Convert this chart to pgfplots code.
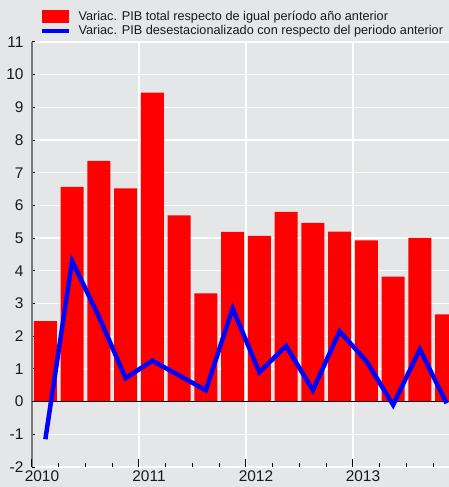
\documentclass[border=0pt]{standalone}
\usepackage{fontspec}
\setmainfont{Liberation Sans}
\usepackage{pgfplots}
\pgfplotsset{compat=1.18}
\definecolor{bg}{RGB}{229,230,232}
\definecolor{axgray}{RGB}{120,120,120}
\begin{document}
\begin{tikzpicture}[x=1bp,y=1bp]
\fill[bg] (-32,-20) rectangle (417,467);
\useasboundingbox (-32,-20) rectangle (417,467);
\begin{axis}[
  at={(0,0)}, anchor=south west,
  scale only axis, width=417bp, height=425bp,
  xmin=0, xmax=15.59, ymin=-2, ymax=11,
  axis y line*=left, axis x line*=bottom,
  separate axis lines,
  y axis line style={axgray, line width=1.7bp},
  x axis line style={draw=none},
  ytick={-2,-1,...,11},
  xtick={0,4,8,12}, xticklabels={2010,2011,2012,2013},
  xticklabel style={xshift=10bp},
  yticklabel style={xshift=-5bp},
  grid=major, major grid style={white, line width=1.3bp},
  tick align=inside, major tick length=3.5bp,
  ytick style={black, line width=1bp},
  xtick style={draw=none},
  tick label style={font=\fontsize{15.5}{15.5}\selectfont, text=black!90},
  /pgf/number format/assume math mode=true,
  legend style={at={(0.0192,1.075)}, anchor=north west, draw=none, fill=none,
    inner sep=0pt, outer sep=0pt, font=\fontsize{12.75}{15}\selectfont,
    row sep=1.5bp, nodes={inner sep=1bp, text=black!90},
    /tikz/every odd column/.append style={column sep=6bp}},
  legend cell align=left,
]
\addplot[ybar, bar width=0.86, fill=red, draw=none,
  legend image code/.code={\fill[red] (0bp,-6.5bp) rectangle (27bp,6.5bp);}]
  table {
x y
0.5 2.46
1.5 6.57
2.5 7.36
3.5 6.52
4.5 9.45
5.5 5.70
6.5 3.31
7.5 5.19
8.5 5.07
9.5 5.80
10.5 5.47
11.5 5.20
12.5 4.93
13.5 3.82
14.5 5.01
15.5 2.67
};
\addlegendentry{Variac. PIB total respecto de igual período año anterior}
\draw[black, line width=0.9bp] (axis cs:0,0) -- (axis cs:15.59,0);
\addplot[blue, line width=4.5bp, line join=miter, mark=none,
  legend image code/.code={\draw[blue, line width=4.5bp] (0bp,0bp) -- (27bp,0bp);}]
  table {
x y
0.5 -1.15
1.5 4.30
2.5 2.60
3.5 0.72
4.5 1.25
5.5 0.80
6.5 0.35
7.5 2.85
8.5 0.90
9.5 1.70
10.5 0.35
11.5 2.15
12.5 1.24
13.5 -0.10
14.5 1.60
15.5 -0.05
};
\addlegendentry{Variac. PIB desestacionalizado con respecto del periodo anterior}
\end{axis}
\begin{axis}[
  at={(0,0)}, anchor=south west,
  scale only axis, width=417bp, height=425bp,
  xmin=0, xmax=15.59, ymin=-2, ymax=11,
  axis x line*=bottom, axis y line=none,
  x axis line style={draw=none},
  xtick={0,4,8,12}, xticklabels={},
  minor xtick={1,2,3,5,6,7,9,10,11,13,14,15},
  major tick length=7.5bp, minor tick length=3.5bp,
  tick align=inside,
  xtick style={black, line width=1bp},
  minor x tick style={black, line width=1bp},
]
\end{axis}
\end{tikzpicture}
\end{document}
